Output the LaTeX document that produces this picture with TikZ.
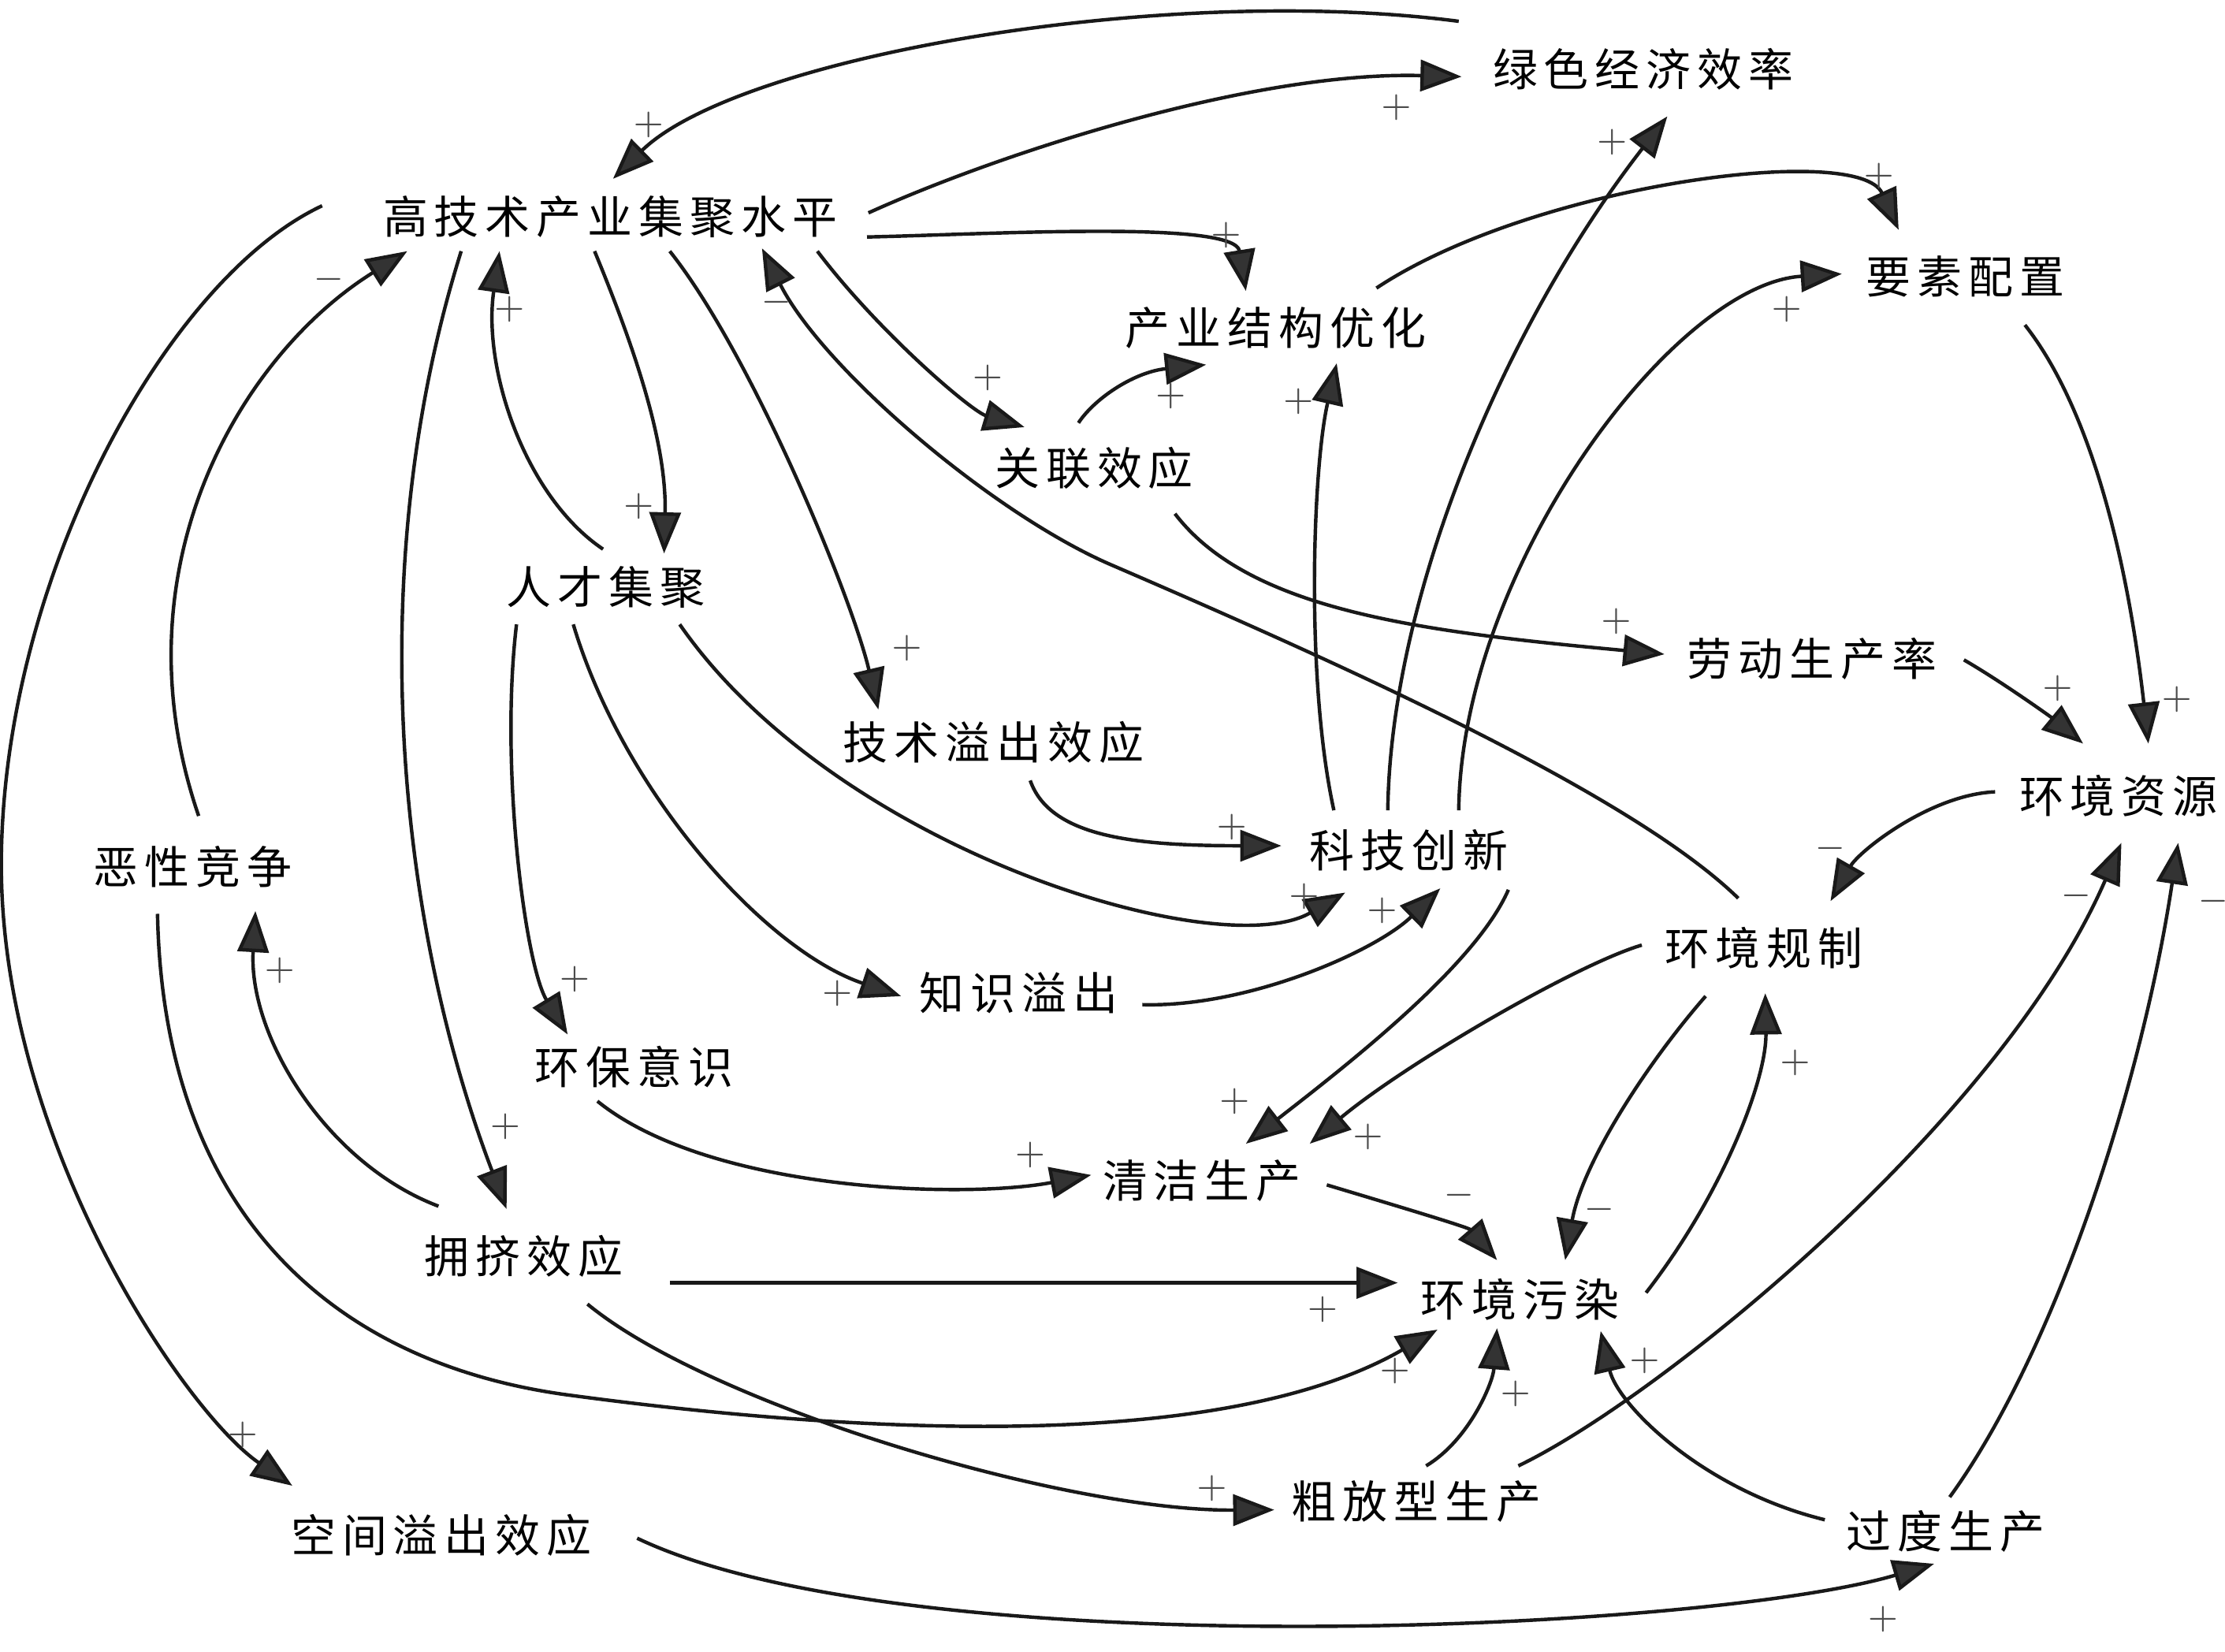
\documentclass[tikz,border=0pt]{standalone}
\usepackage{fontspec}
\newfontfamily\cjk[LetterSpace=14]{Noto Sans CJK SC}
\usetikzlibrary{arrows.meta}

\begin{document}
\begin{tikzpicture}[x=0.1mm, y=-0.1mm,
    var/.style={font=\cjk\fontsize{9}{11}\selectfont, inner sep=0pt},
    sgn/.style={font=\fontsize{7}{8}\selectfont, text=black!70, inner sep=0pt},
    flow/.style={draw=black!90, line width=0.7pt, -{Triangle[length=2.9mm, width=2.2mm, fill=black!80]}}]
    \useasboundingbox (0,0) rectangle (1568,1164);

    % variables
    \node[var] (gee) at (1158,49) {绿色经济效率};
    \node[var] (hi) at (430,153) {高技术产业集聚水平};
    \node[var] (fa) at (1385,195) {要素配置};
    \node[var] (iso) at (899,231) {产业结构优化};
    \node[var] (link) at (771,330) {关联效应};
    \node[var] (talent) at (427,414) {人才集聚};
    \node[var] (labor) at (1277,464) {劳动生产率};
    \node[var] (tsp) at (700,523) {技术溢出效应};
    \node[var] (res) at (1493,561) {环境资源};
    \node[var] (comp) at (136,611) {恶性竞争};
    \node[var] (inno) at (993,599) {科技创新};
    \node[var] (reg) at (1243,668) {环境规制};
    \node[var] (ksp) at (718,700) {知识溢出};
    \node[var] (aware) at (447,752) {环保意识};
    \node[var] (clean) at (847,832) {清洁生产};
    \node[var] (crowd) at (369,885) {拥挤效应};
    \node[var] (poll) at (1071,916) {环境污染};
    \node[var] (crude) at (998,1058) {粗放型生产};
    \node[var] (ssp) at (311,1082) {空间溢出效应};
    \node[var] (over) at (1371,1079) {过度生产};

    % links around the agglomeration level
    \draw[flow] ([shift={(-130,-34)}]gee.center) .. controls (820,-12) and (520,40) .. ([shift={(2,-27)}]hi.center) node[sgn] at (457,88) {$+$};
    \draw[flow] ([shift={(182,-3)}]hi.center) .. controls (700,110) and (880,50) .. ([shift={(-128,5)}]gee.center) node[sgn] at (984,76) {$+$};
    \draw[flow] ([shift={(181,14)}]hi.center) .. controls (700,165) and (870,155) .. ([shift={(-21,-26)}]iso.center) node[sgn] at (864,166) {$+$};
    \draw[flow] ([shift={(146,24)}]hi.center) .. controls (620,235) and (685,290) .. ([shift={(-49,-29)}]link.center) node[sgn] at (696,266) {$+$};
    \draw[flow] ([shift={(-11,-32)}]link.center) .. controls (772,280) and (800,262) .. ([shift={(-49,26)}]iso.center) node[sgn] at (825,279) {$+$};
    \draw[flow] ([shift={(57,32)}]link.center) .. controls (880,430) and (1000,445) .. ([shift={(-104,-3)}]labor.center) node[sgn] at (1139,438) {$+$};
    \draw[flow] ([shift={(-11,24)}]hi.center) .. controls (445,240) and (470,310) .. ([shift={(41,-24)}]talent.center) node[sgn] at (450,357) {$+$};
    \draw[flow] ([shift={(-2,-27)}]talent.center) .. controls (370,350) and (340,260) .. ([shift={(-78,24)}]hi.center) node[sgn] at (359,218) {$+$};
    \draw[flow] ([shift={(42,24)}]hi.center) .. controls (530,250) and (600,420) .. ([shift={(-81,-23)}]tsp.center) node[sgn] at (639,457) {$+$};
    \draw[flow] ([shift={(-105,24)}]hi.center) .. controls (255,400) and (280,650) .. ([shift={(-12,-33)}]crowd.center) node[sgn] at (356,794) {$+$};
    \draw[flow] ([shift={(4,-36)}]comp.center) .. controls (80,400) and (170,250) .. ([shift={(-143,24)}]hi.center) node[sgn] at (232,197) {$-$};
    \draw[flow] ([shift={(-203,-8)}]hi.center) .. controls (120,195) and (5,400) .. (1,600) .. controls (-3,800) and (130,995) .. ([shift={(-105,-35)}]ssp.center) node[sgn] at (171,1011) {$+$};
    \draw[flow] ([shift={(-18,-35)}]reg.center) .. controls (1150,560) and (950,470) .. (783,398) .. controls (699.5,362) and (580,260) .. ([shift={(107,22)}]hi.center) node[sgn] at (547,213) {$-$};

    % talent and innovation
    \draw[flow] ([shift={(26,27)}]tsp.center) .. controls (740,590) and (800,596) .. ([shift={(-90,-3)}]inno.center) node[sgn] at (868,583) {$+$};
    \draw[flow] ([shift={(52,26)}]talent.center) .. controls (590,600) and (860,680) .. ([shift={(-45,30)}]inno.center) node[sgn] at (919,632) {$+$};
    \draw[flow] ([shift={(-23,26)}]talent.center) .. controls (440,560) and (540,670) .. ([shift={(-83,2)}]ksp.center) node[sgn] at (590,700) {$+$};
    \draw[flow] ([shift={(87,8)}]ksp.center) .. controls (880,710) and (970,670) .. ([shift={(22,27)}]inno.center) node[sgn] at (974,642) {$+$};
    \draw[flow] ([shift={(-63,26)}]talent.center) .. controls (352,540) and (370,680) .. ([shift={(-47,-23)}]aware.center) node[sgn] at (405,690) {$+$};
    \draw[flow] ([shift={(-26,24)}]aware.center) .. controls (500,840) and (680,845) .. ([shift={(-78,-4)}]clean.center) node[sgn] at (726,814) {$+$};
    \draw[flow] ([shift={(-53,-28)}]inno.center) .. controls (920,480) and (925,330) .. ([shift={(43,25)}]iso.center) node[sgn] at (915,283) {$+$};
    \draw[flow] ([shift={(-15,-28)}]inno.center) .. controls (980,420) and (1060,230) .. ([shift={(17,33)}]gee.center) node[sgn] at (1136,100) {$+$};
    \draw[flow] ([shift={(35,-28)}]inno.center) .. controls (1030,400) and (1180,200) .. ([shift={(-87,-2)}]fa.center) node[sgn] at (1259,218) {$+$};
    \draw[flow] ([shift={(71,-28)}]iso.center) .. controls (1080,130) and (1310,100) .. ([shift={(-47,-33)}]fa.center) node[sgn] at (1324,124) {$+$};
    \draw[flow] ([shift={(70,28)}]inno.center) .. controls (1040,680) and (950,750) .. ([shift={(31,-26)}]clean.center) node[sgn] at (870,776) {$+$};

    % environment side
    \draw[flow] ([shift={(107,1)}]labor.center) .. controls (1410,480) and (1445,505) .. ([shift={(-25,-37)}]res.center) node[sgn] at (1450,485) {$+$};
    \draw[flow] ([shift={(42,34)}]fa.center) .. controls (1475,290) and (1500,400) .. ([shift={(21,-37)}]res.center) node[sgn] at (1534,493) {$+$};
    \draw[flow] ([shift={(-87,-3)}]res.center) .. controls (1360,560) and (1310,600) .. ([shift={(47,-33)}]reg.center) node[sgn] at (1290,598) {$-$};
    \draw[flow] ([shift={(-86,-2)}]reg.center) .. controls (1110,680) and (990,750) .. ([shift={(76,-26)}]clean.center) node[sgn] at (964,801) {$+$};
    \draw[flow] ([shift={(-41,34)}]reg.center) .. controls (1160,750) and (1115,820) .. ([shift={(32,-28)}]poll.center) node[sgn] at (1127,852) {$-$};
    \draw[flow] ([shift={(89,-5)}]poll.center) .. controls (1215,840) and (1245,760) .. ([shift={(1,32)}]reg.center) node[sgn] at (1265,749) {$+$};
    \draw[flow] ([shift={(88,3)}]clean.center) .. controls (985,850) and (1035,865) .. ([shift={(-16,-28)}]poll.center) node[sgn] at (1028,842) {$-$};

    % crowding and production
    \draw[flow] ([shift={(-60,-35)}]crowd.center) .. controls (230,820) and (175,730) .. ([shift={(44,31)}]comp.center) node[sgn] at (197,684) {$+$};
    \draw[flow] ([shift={(-25,33)}]comp.center) .. controls (115,850) and (230,960) .. (400,983) .. controls (600,1010) and (860,1025) .. ([shift={(-58,21)}]poll.center) node[sgn] at (983,966) {$+$};
    \draw[flow] ([shift={(103,19)}]crowd.center) -- ([shift={(-86,-12)}]poll.center) node[sgn] at (932,923) {$+$};
    \draw[flow] ([shift={(45,34)}]crowd.center) .. controls (500,990) and (750,1065) .. ([shift={(-100,6)}]crude.center) node[sgn] at (854,1049) {$+$};
    \draw[flow] ([shift={(7,-25)}]crude.center) .. controls (1035,1015) and (1052,975) .. ([shift={(-16,20)}]poll.center) node[sgn] at (1068,982) {$+$};
    \draw[flow] ([shift={(72,-25)}]crude.center) .. controls (1170,985) and (1410,790) .. ([shift={(2,33)}]res.center) node[sgn] at (1463,631) {$-$};
    \draw[flow] ([shift={(3,-24)}]over.center) .. controls (1450,950) and (1510,760) .. ([shift={(42,33)}]res.center) node[sgn] at (1560,635) {$-$};
    \draw[flow] ([shift={(-85,-8)}]over.center) .. controls (1200,1050) and (1140,990) .. ([shift={(57,22)}]poll.center) node[sgn] at (1159,959) {$+$};
    \draw[flow] ([shift={(138,2)}]ssp.center) .. controls (640,1175) and (1200,1150) .. ([shift={(-8,23)}]over.center) node[sgn] at (1327,1141) {$+$};
\end{tikzpicture}
\end{document}
